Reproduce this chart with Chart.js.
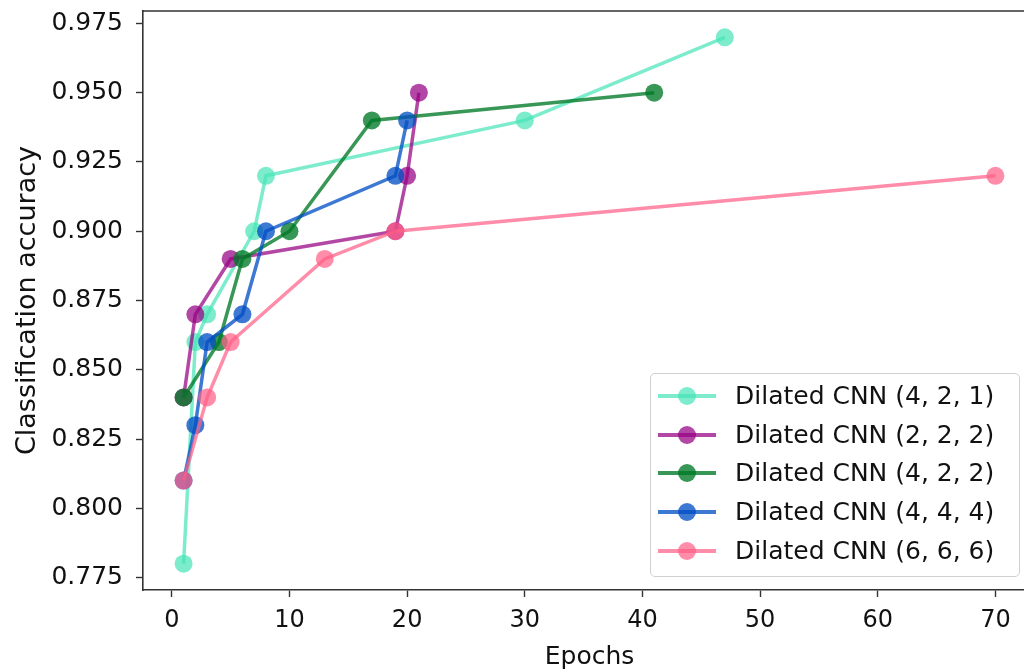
<!DOCTYPE html>
<html>
<head>
<meta charset="utf-8">
<script src="https://cdn.jsdelivr.net/npm/chart.js@4/dist/chart.umd.min.js"></script>
<style>
  html, body { margin: 0; padding: 0; background: #fff; overflow: hidden; }
  #wrap { position: relative; width: 1024px; height: 671px; overflow: hidden; }
  #chart { position: absolute; left: 0; top: -17px; }
  #legend {
    position: absolute; left: 650px; top: 373px; width: 368px; height: 202px;
    border: 1.5px solid #d0d0d0; border-radius: 5px; background: rgba(255,255,255,0.85);
    font-family: "DejaVu Sans", sans-serif; font-size: 25px; color: #111;
  }
  .row { position: absolute; left: 0; height: 38px; width: 100%; }
  .row .ln { position: absolute; left: 7px; top: 17px; width: 58px; height: 4px; }
  .row .dot { position: absolute; left: 27px; top: 10px; width: 18px; height: 18px; border-radius: 50%; }
  .row .tx { position: absolute; left: 84px; top: 4px; white-space: nowrap; }
</style>
</head>
<body>
<div id="wrap">
  <canvas id="chart" width="1050" height="690"></canvas>
  <div id="legend"></div>
</div>
<script>
// 시리즈 이름
var seriesNames = ['Dilated CNN (4, 2, 1)', 'Dilated CNN (2, 2, 2)', 'Dilated CNN (4, 2, 2)', 'Dilated CNN (4, 4, 4)', 'Dilated CNN (6, 6, 6)'];

// epoch / accuracy 값
var epochs421 = [1, 2, 3, 7, 8, 30, 47];
var acc421    = [0.78, 0.86, 0.87, 0.90, 0.92, 0.94, 0.97];
var epochs222 = [1, 2, 5, 19, 20, 21];
var acc222    = [0.84, 0.87, 0.89, 0.90, 0.92, 0.95];
var epochs422 = [1, 4, 6, 10, 17, 41];
var acc422    = [0.84, 0.86, 0.89, 0.90, 0.94, 0.95];
var epochs444 = [1, 2, 3, 6, 8, 19, 20];
var acc444    = [0.81, 0.83, 0.86, 0.87, 0.90, 0.92, 0.94];
var epochs666 = [1, 3, 5, 13, 19, 70];
var acc666    = [0.81, 0.84, 0.86, 0.89, 0.90, 0.92];

// 눈금
var xTicks = [0, 10, 20, 30, 40, 50, 60, 70];
var yTicks = [0.775, 0.800, 0.825, 0.850, 0.875, 0.900, 0.925, 0.950, 0.975];

var colors = ['rgba(70,228,182,0.7)', 'rgba(150,0,130,0.72)', 'rgba(0,122,38,0.78)', 'rgba(0,78,196,0.76)', 'rgba(255,96,135,0.72)'];
var allX = [epochs421, epochs222, epochs422, epochs444, epochs666];
var allY = [acc421, acc222, acc422, acc444, acc666];

function toPoints(xs, ys){
  return xs.map(function(x, i){ return {x: x, y: ys[i]}; });
}

var datasets = seriesNames.map(function(name, i){
  return {
    label: name,
    data: toPoints(allX[i], allY[i]),
    borderColor: colors[i],
    backgroundColor: colors[i],
    borderWidth: 3.5,
    pointRadius: 9,
    pointHoverRadius: 9,
    pointBorderWidth: 0,
    showLine: true,
    tension: 0,
    order: seriesNames.length - i // 나중 시리즈가 위에 그려지도록
  };
});

// 위쪽 테두리 그리기
var framePlugin = {
  id: 'frame',
  afterDraw: function(chart){
    var a = chart.chartArea, ctx = chart.ctx;
    ctx.save();
    ctx.strokeStyle = '#333';
    ctx.lineWidth = 1.6;
    ctx.beginPath();
    ctx.moveTo(a.left, a.top);
    ctx.lineTo(a.right, a.top);
    ctx.lineTo(a.right, a.bottom);
    ctx.stroke();
    ctx.restore();
  }
};

var font = 'DejaVu Sans';
new Chart(document.getElementById('chart'), {
  type: 'scatter',
  data: { datasets: datasets },
  options: {
    responsive: false,
    animation: false,
    layout: { padding: { left: 0, right: 14, top: 9.5, bottom: 0 } },
    plugins: { legend: { display: false }, tooltip: { enabled: false } },
    scales: {
      x: {
        type: 'linear', min: -2.45, max: 73.45,
        afterBuildTicks: function(s){ s.ticks = xTicks.map(function(v){ return {value: v}; }); },
        afterFit: function(s){ s.height = 83; },
        grid: { display: true, drawOnChartArea: false, tickLength: 7, tickColor: '#333', tickWidth: 1.4 },
        border: { display: true, color: '#333', width: 1.6 },
        ticks: { color: '#111', font: { family: font, size: 24 }, padding: 9, maxRotation: 0 },
        title: { display: true, text: 'Epochs', color: '#111', font: { family: font, size: 25 }, padding: { top: 0, bottom: 1 } }
      },
      y: {
        type: 'linear', min: 0.7705, max: 0.9795,
        afterBuildTicks: function(s){ s.ticks = yTicks.map(function(v){ return {value: v}; }); },
        afterFit: function(s){ s.width = 143; },
        grid: { display: true, drawOnChartArea: false, tickLength: 7, tickColor: '#333', tickWidth: 1.4 },
        border: { display: true, color: '#333', width: 1.6 },
        ticks: { color: '#111', font: { family: font, size: 25 }, padding: 13, callback: function(v){ return v.toFixed(3); } },
        title: { display: true, text: 'Classification accuracy', color: '#111', font: { family: font, size: 27 }, padding: { top: 12, bottom: 0 } }
      }
    }
  },
  plugins: [framePlugin]
});

// 범례 (HTML)
var legend = document.getElementById('legend');
seriesNames.forEach(function(name, i){
  var row = document.createElement('div');
  row.className = 'row';
  row.style.top = (3 + i * 38.7) + 'px';
  row.innerHTML = '<div class="ln" style="background:' + colors[i] + '"></div>' +
    '<div class="dot" style="background:' + colors[i] + '"></div>' +
    '<div class="tx">' + name + '</div>';
  legend.appendChild(row);
});
</script>
</body>
</html>
